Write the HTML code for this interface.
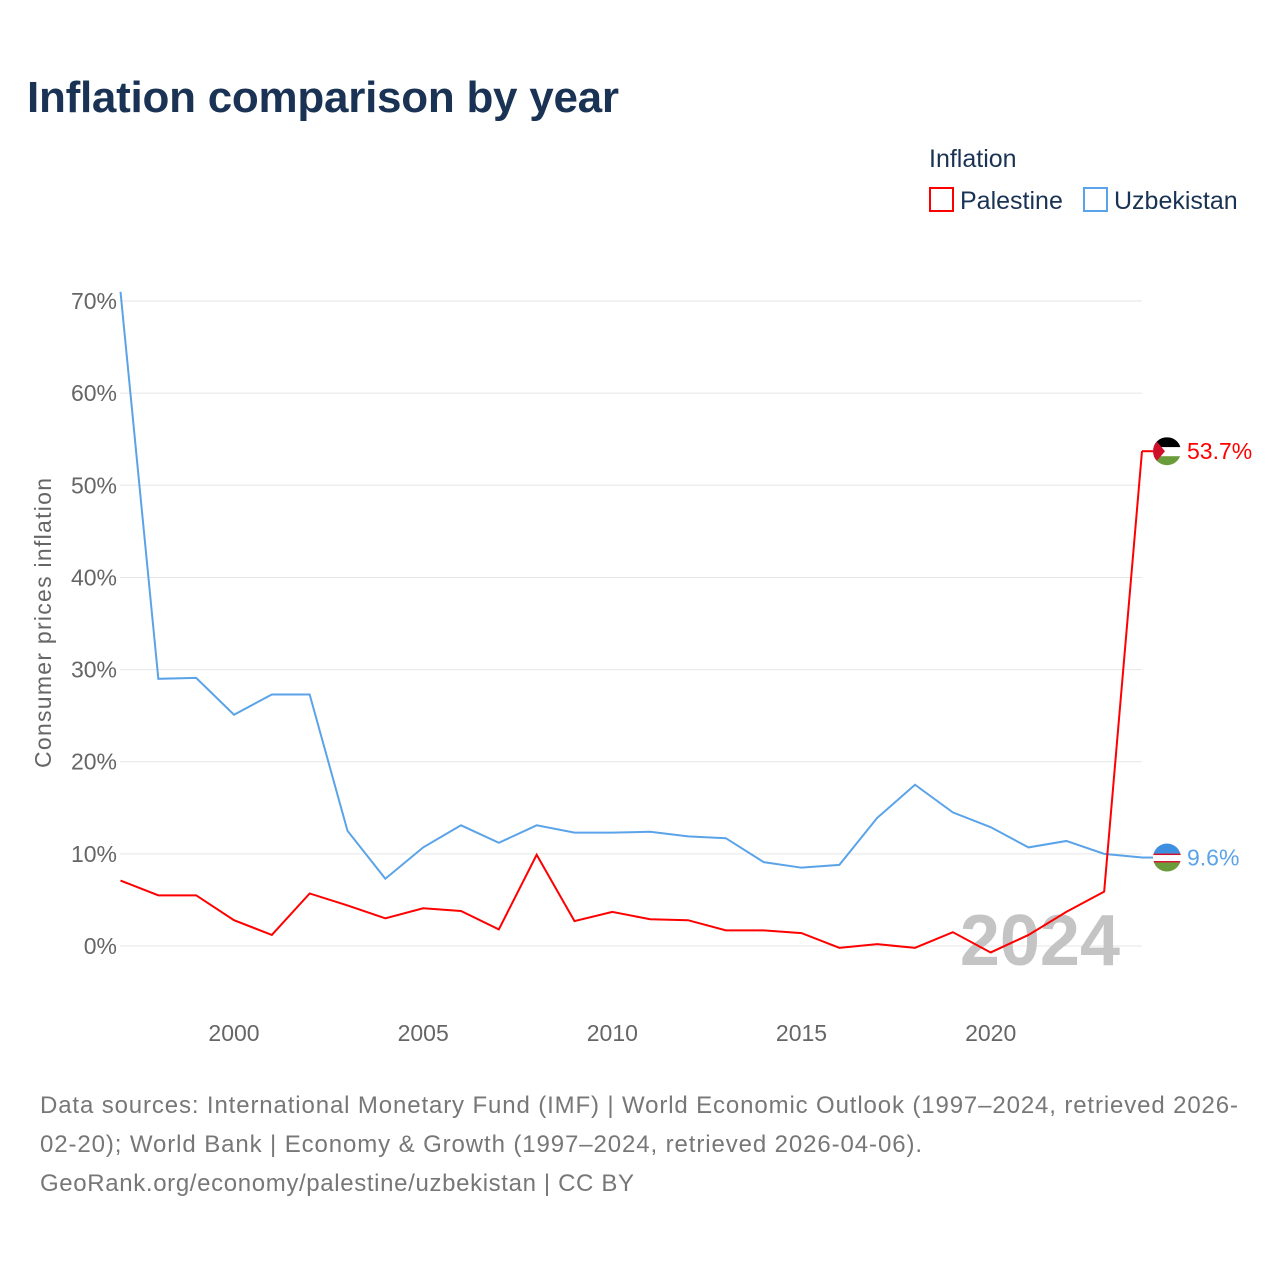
<!DOCTYPE html>
<html><head><meta charset="utf-8"><style>
body{margin:0;background:#fff;font-family:"Liberation Sans",sans-serif;}
svg text{font-family:"Liberation Sans",sans-serif;}
</style></head><body>
<svg id="chart" width="1280" height="1280" viewBox="0 0 1280 1280">
<defs>
<clipPath id="cp1"><circle cx="0" cy="0" r="14"/></clipPath>
</defs>
<text x="27" y="112" font-size="44" font-weight="bold" fill="#1a3354" textLength="592">Inflation comparison by year</text>
<text x="929" y="167" font-size="25" fill="#1a3354">Inflation</text>
<g><rect x="930" y="188" width="23" height="23" fill="none" stroke="#f00" stroke-width="2"/><text x="960" y="209" font-size="25" fill="#1a3354">Palestine</text></g>
<g><rect x="1084" y="188" width="23" height="23" fill="none" stroke="#5ba3e8" stroke-width="2"/><text x="1114" y="209" font-size="25" fill="#1a3354">Uzbekistan</text></g>
<g id="grid"></g>
<g id="yticks"></g>
<g id="xticks"></g>
<text transform="translate(51,623) rotate(-90)" text-anchor="middle" font-size="23" fill="#666" textLength="290">Consumer prices inflation</text>
<text x="1120" y="965" text-anchor="end" font-size="72" font-weight="bold" fill="#c4c4c4">2024</text>
<g id="series"></g>
<text x="40" y="1113" font-size="24" fill="#777" textLength="1198">Data sources: International Monetary Fund (IMF) | World Economic Outlook (1997–2024, retrieved 2026-</text>
<text x="40" y="1152" font-size="24" fill="#777" textLength="882">02-20); World Bank | Economy &amp; Growth (1997–2024, retrieved 2026-04-06).</text>
<text x="40" y="1191" font-size="24" fill="#777" textLength="594">GeoRank.org/economy/palestine/uzbekistan | CC BY</text>
</svg>
<script>
const years=[1997,1998,1999,2000,2001,2002,2003,2004,2005,2006,2007,2008,2009,2010,2011,2012,2013,2014,2015,2016,2017,2018,2019,2020,2021,2022,2023,2024];
const palestine=[7.1,5.5,5.5,2.8,1.2,5.7,4.4,3.0,4.1,3.8,1.8,9.9,2.7,3.7,2.9,2.8,1.7,1.7,1.4,-0.2,0.2,-0.2,1.5,-0.7,1.2,3.7,5.9,53.7];
const uzbekistan=[71,29.0,29.1,25.1,27.3,27.3,12.5,7.3,10.7,13.1,11.2,13.1,12.3,12.3,12.4,11.9,11.7,9.1,8.5,8.8,13.9,17.5,14.5,12.9,10.7,11.4,10.0,9.6];
const yTicks=[0,10,20,30,40,50,60,70];
const xTicks=[2000,2005,2010,2015,2020];
const NS="http://www.w3.org/2000/svg";
const X=y=>120.5+(y-1997)*(1142-120.5)/27;
const Y=v=>946-v*9.214;
function mk(t,a,p){const e=document.createElementNS(NS,t);for(const k in a)e.setAttribute(k,a[k]);p.appendChild(e);return e;}
const grid=document.getElementById('grid'),yt=document.getElementById('yticks'),xt=document.getElementById('xticks'),sg=document.getElementById('series');
yTicks.forEach(v=>{
 const l=mk('line',{x1:120,x2:1142,y1:Y(v),y2:Y(v),stroke:'#e6e6e6','stroke-width':1},grid);
 
 
 const t=mk('text',{x:117,y:Y(v)+8,'text-anchor':'end','font-size':23,fill:'#666'},yt);
 t.textContent=v+'%';
 
 
});
xTicks.forEach(v=>{
 const t=mk('text',{x:X(v),y:1041,'text-anchor':'middle','font-size':23,fill:'#666'},xt);
 t.textContent=v;
 
 
});
function flag(g,kind){
 const c=mk('g',{'clip-path':'url(#cp1)'},g);
 if(kind==='ps'){
  mk('rect',{x:-14,y:-14,width:28,height:10,fill:'#000'},c);
  mk('rect',{x:-14,y:-4,width:28,height:9,fill:'#fff'},c);
  mk('rect',{x:-14,y:5,width:28,height:10,fill:'#6a9c3a'},c);
  mk('polygon',{points:'-14,-14 -2,0 -14,14',fill:'#d0102b'},c);
 }else{
  mk('rect',{x:-14,y:-14,width:28,height:10,fill:'#3d8fe0'},c);
  mk('rect',{x:-14,y:-4,width:28,height:9,fill:'#fff'},c);
  mk('rect',{x:-14,y:-4,width:28,height:1.5,fill:'#d0102b'},c);
  mk('rect',{x:-14,y:3.5,width:28,height:1.5,fill:'#d0102b'},c);
  mk('rect',{x:-14,y:5,width:28,height:10,fill:'#6a9c3a'},c);
 }
}
function series(vals,color,name,kind){
 const p=mk('polyline',{points:vals.map((v,i)=>X(years[i])+','+Y(v)).join(' '),fill:'none',stroke:color,'stroke-width':2},sg);
 
 
 const last=vals[vals.length-1],lx=X(years[years.length-1]),ly=Y(last);
 const cn=mk('line',{x1:lx,x2:lx+12,y1:ly,y2:ly,stroke:color,'stroke-width':2},sg);
 
 
 const g=mk('g',{transform:'translate('+(lx+25)+','+ly+')'},sg);
 
 
 flag(g,kind);
 const t=mk('text',{x:lx+45,y:ly+8,'font-size':23,fill:color},sg);
 t.textContent=last.toFixed(1)+'%';
 
 
}
series(uzbekistan,'#5ba3e8','uzbekistan','uz');
series(palestine,'#f00','palestine','ps');
</script>
</body></html>
